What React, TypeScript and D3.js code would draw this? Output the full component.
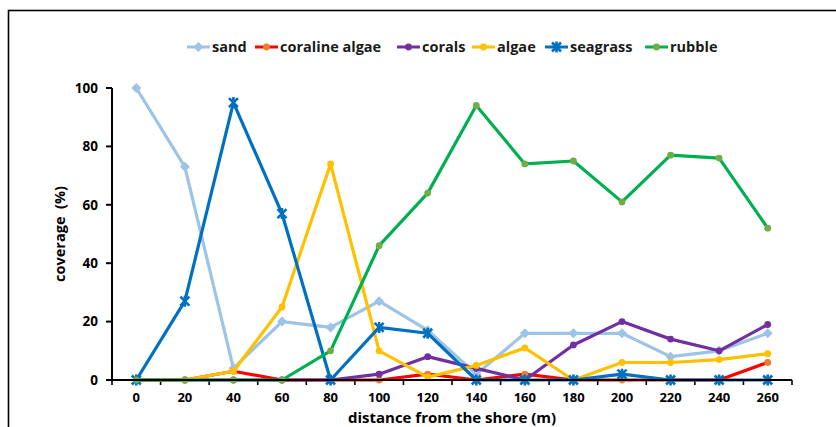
import React from 'react';
import * as d3 from 'd3';

const distances = ['0', '20', '40', '60', '80', '100', '120', '140', '160', '180', '200', '220', '240', '260'];
const yTicks = [0, 20, 40, 60, 80, 100];

const sand = [100, 73, 4, 20, 18, 27, 17, 2, 16, 16, 16, 8, 10, 16];
const corallineAlgae = [0, 0, 3, 0, 0, 0, 2, 0, 2, 0, 0, 0, 0, 6];
const corals = [0, 0, 0, 0, 0, 2, 8, 4, 0, 12, 20, 14, 10, 19];
const algae = [0, 0, 3, 25, 74, 10, 1, 5, 11, 0, 6, 6, 7, 9];
const seagrass = [0, 27, 95, 57, 0, 18, 16, 0, 0, 0, 2, 0, 0, 0];
const rubble = [0, 0, 0, 0, 10, 46, 64, 94, 74, 75, 61, 77, 76, 52];

type Marker = 'diamond' | 'circle' | 'star';

interface Series {
  name: string;
  values: number[];
  line: string;
  fill: string;
  marker: Marker;
}

const series: Series[] = [
  { name: 'sand', values: sand, line: '#9dc3e6', fill: '#9dc3e6', marker: 'diamond' },
  { name: 'coraline algae', values: corallineAlgae, line: '#ff0000', fill: '#ed7d31', marker: 'circle' },
  { name: 'corals', values: corals, line: '#7030a0', fill: '#7030a0', marker: 'circle' },
  { name: 'algae', values: algae, line: '#ffc000', fill: '#ffc000', marker: 'circle' },
  { name: 'seagrass', values: seagrass, line: '#0070c0', fill: '#0070c0', marker: 'star' },
  { name: 'rubble', values: rubble, line: '#00b050', fill: '#70ad47', marker: 'circle' }
];

// legend swatch x positions
const legendX = [187, 255, 397, 472, 545, 645];

const font = '"Open Sans", "Noto Sans", sans-serif';

function MarkerShape({ type, x, y, color }: { type: Marker; x: number; y: number; color: string }) {
  if (type === 'diamond') {
    const s = 5;
    return <path d={`M${x},${y - s}L${x + s},${y}L${x},${y + s}L${x - s},${y}Z`} fill={color} />;
  }
  if (type === 'star') {
    const s = 4.5;
    return (
      <path
        d={`M${x - s},${y - s}L${x + s},${y + s}M${x - s},${y + s}L${x + s},${y - s}M${x},${y - s - 1}L${x},${y + s + 1}`}
        stroke={color}
        strokeWidth={2.6}
        fill="none"
      />
    );
  }
  return <circle cx={x} cy={y} r={3.4} fill={color} />;
}

export default function App() {
  const width = 836;
  const height = 427;
  const plot = { left: 112, right: 792, top: 88, bottom: 380 };

  const x = d3.scaleBand().domain(distances).range([plot.left, plot.right]).padding(0);
  const y = d3.scaleLinear().domain([0, 100]).range([plot.bottom, plot.top]);
  const cx = (d: string) => x(d)! + x.bandwidth() / 2;

  const line = d3
    .line<number>()
    .x((_, i) => cx(distances[i]))
    .y(v => y(v));

  const boundaries = distances.map(d => x(d)!).concat([plot.right]);

  return (
    <svg
      width={width}
      height={height}
      style={{ position: 'absolute', left: 0, top: 0, background: '#fff' }}
      fontFamily={font}
    >
      <rect x={8.5} y={10.5} width={840} height={430} fill="#fff" stroke="#000" strokeWidth={1.6} />

      {/* legend */}
      <g fontSize={14.5} fontWeight="bold" fill="#1a1a1a">
        {series.map((s, i) => (
          <g key={s.name}>
            <line x1={legendX[i]} x2={legendX[i] + 23} y1={47} y2={47} stroke={s.line} strokeWidth={3} />
            <MarkerShape type={s.marker} x={legendX[i] + 11.5} y={47} color={s.fill} />
            <text x={legendX[i] + 25} y={47} dy="0.35em">
              {s.name}
            </text>
          </g>
        ))}
      </g>

      {/* y axis */}
      <line x1={plot.left} x2={plot.left} y1={plot.top} y2={plot.bottom} stroke="#000" strokeWidth={2} />
      {yTicks.map(t => (
        <g key={t}>
          <line x1={plot.left - 6} x2={plot.left} y1={y(t)} y2={y(t)} stroke="#000" strokeWidth={2} />
          <text x={plot.left - 14} y={y(t)} dy="0.35em" textAnchor="end" fontSize={13.5} fontWeight="bold">
            {t}
          </text>
        </g>
      ))}
      <text
        transform={`translate(60, ${(plot.top + plot.bottom) / 2}) rotate(-90)`}
        textAnchor="middle"
        fontSize={14.5}
        fontWeight="bold"
        dy="0.35em"
        style={{ whiteSpace: 'pre' }}
      >
        {'coverage  (%)'}
      </text>

      {/* x axis */}
      {boundaries.map((b, i) => (
        <line key={i} x1={b} x2={b} y1={plot.bottom} y2={plot.bottom + 5} stroke="#000" strokeWidth={1.6} />
      ))}
      {distances.map(d => (
        <text key={d} x={cx(d)} y={397} dy="0.35em" textAnchor="middle" fontSize={13} fontWeight="bold">
          {d}
        </text>
      ))}
      <text x={452} y={418} dy="0.35em" textAnchor="middle" fontSize={15} fontWeight="bold">
        distance from the shore (m)
      </text>

      {/* series */}
      {series.map(s => (
        <g key={s.name}>
          <path d={line(s.values)!} fill="none" stroke={s.line} strokeWidth={3.2} strokeLinejoin="round" />
          {s.values.map((v, i) => (
            <MarkerShape key={i} type={s.marker} x={cx(distances[i])} y={y(v)} color={s.fill} />
          ))}
        </g>
      ))}
      <line x1={plot.left} x2={plot.right} y1={plot.bottom} y2={plot.bottom} stroke="#000" strokeWidth={2} />
    </svg>
  );
}
